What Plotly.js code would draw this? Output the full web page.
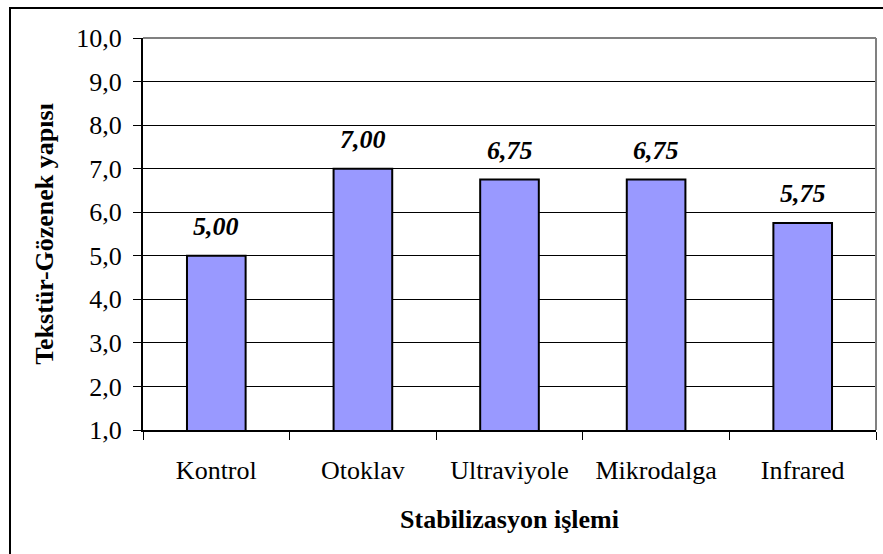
<!DOCTYPE html>
<html>
<head>
<meta charset="utf-8">
<script src="https://cdn.plot.ly/plotly-3.0.1.min.js"></script>
<style>
  html, body { margin: 0; padding: 0; background: #fff; }
  #wrap { position: relative; width: 883px; height: 554px; overflow: hidden; }
  #chart { width: 883px; height: 554px; }
  #frame { position: absolute; left: 9px; top: 7px; width: 890px; height: 560px;
           border-left: 2px solid #000; border-top: 2px solid #000; pointer-events: none; }
</style>
</head>
<body>
<div id="wrap">
  <div id="chart"></div>
  <div id="frame"></div>
</div>
<script>
const categories = ["Kontrol", "Otoklav", "Ultraviyole", "Mikrodalga", "Infrared"];
const values = [5.00, 7.00, 6.75, 6.75, 5.75];
const yTickValues = [1, 2, 3, 4, 5, 6, 7, 8, 9, 10];
const yTitle = "Tekstür-Gözenek yapısı";
const xTitle = "Stabilizasyon işlemi";

const serif = "'Liberation Serif', 'Times New Roman', serif";

const trace = {
  type: "bar",
  x: categories,
  y: values,
  marker: { color: "#9999FF", line: { color: "#000000", width: 2 } },
  hoverinfo: "skip"
};

const annotations = categories.map((c, i) => ({
  x: c, y: values[i], xref: "x", yref: "y",
  text: values[i].toFixed(2).replace(".", ","),
  showarrow: false, yanchor: "bottom", yshift: 13,
  font: { family: serif, size: 26, color: "#000", weight: "bold", style: "italic" }
}));

const layout = {
  width: 883, height: 554,
  margin: { l: 143, r: 7, t: 38, b: 124 },
  paper_bgcolor: "#ffffff",
  plot_bgcolor: "#ffffff",
  separators: ",.",
  bargap: 0.6,
  showlegend: false,
  font: { family: serif, size: 26, color: "#000" },
  xaxis: {
    type: "category",
    tickson: "boundaries",
    ticks: "outside", ticklen: 8, tickcolor: "#000", tickwidth: 1,
    showline: true, linecolor: "#000", linewidth: 2,
    showgrid: false,
    ticklabelstandoff: 16,
    tickfont: { family: serif, size: 26, color: "#000" },
    title: { text: xTitle, font: { family: serif, size: 26, color: "#000", weight: "bold" }, standoff: 26 }
  },
  yaxis: {
    range: [1, 10],
    tickvals: yTickValues,
    tickformat: ".1f",
    ticks: "outside", ticklen: 8, tickcolor: "#000", tickwidth: 1,
    showline: true, linecolor: "#000", linewidth: 2,
    showgrid: true, gridcolor: "#000", gridwidth: 1,
    zeroline: false,
    ticklabelstandoff: 6,
    tickfont: { family: serif, size: 26, color: "#000" },
    title: { text: yTitle, font: { family: serif, size: 26, color: "#000", weight: "bold" }, standoff: 15 }
  },
  shapes: [
    { type: "line", xref: "paper", yref: "paper", x0: 0, x1: 1, y0: 1, y1: 1,
      line: { color: "#808080", width: 2 }, layer: "above" },
    { type: "line", xref: "paper", yref: "paper", x0: 1, x1: 1, y0: 0, y1: 1,
      line: { color: "#808080", width: 2 }, layer: "above" }
  ],
  annotations: annotations
};

Plotly.newPlot("chart", [trace], layout, { staticPlot: true, displayModeBar: false });
</script>
</body>
</html>
